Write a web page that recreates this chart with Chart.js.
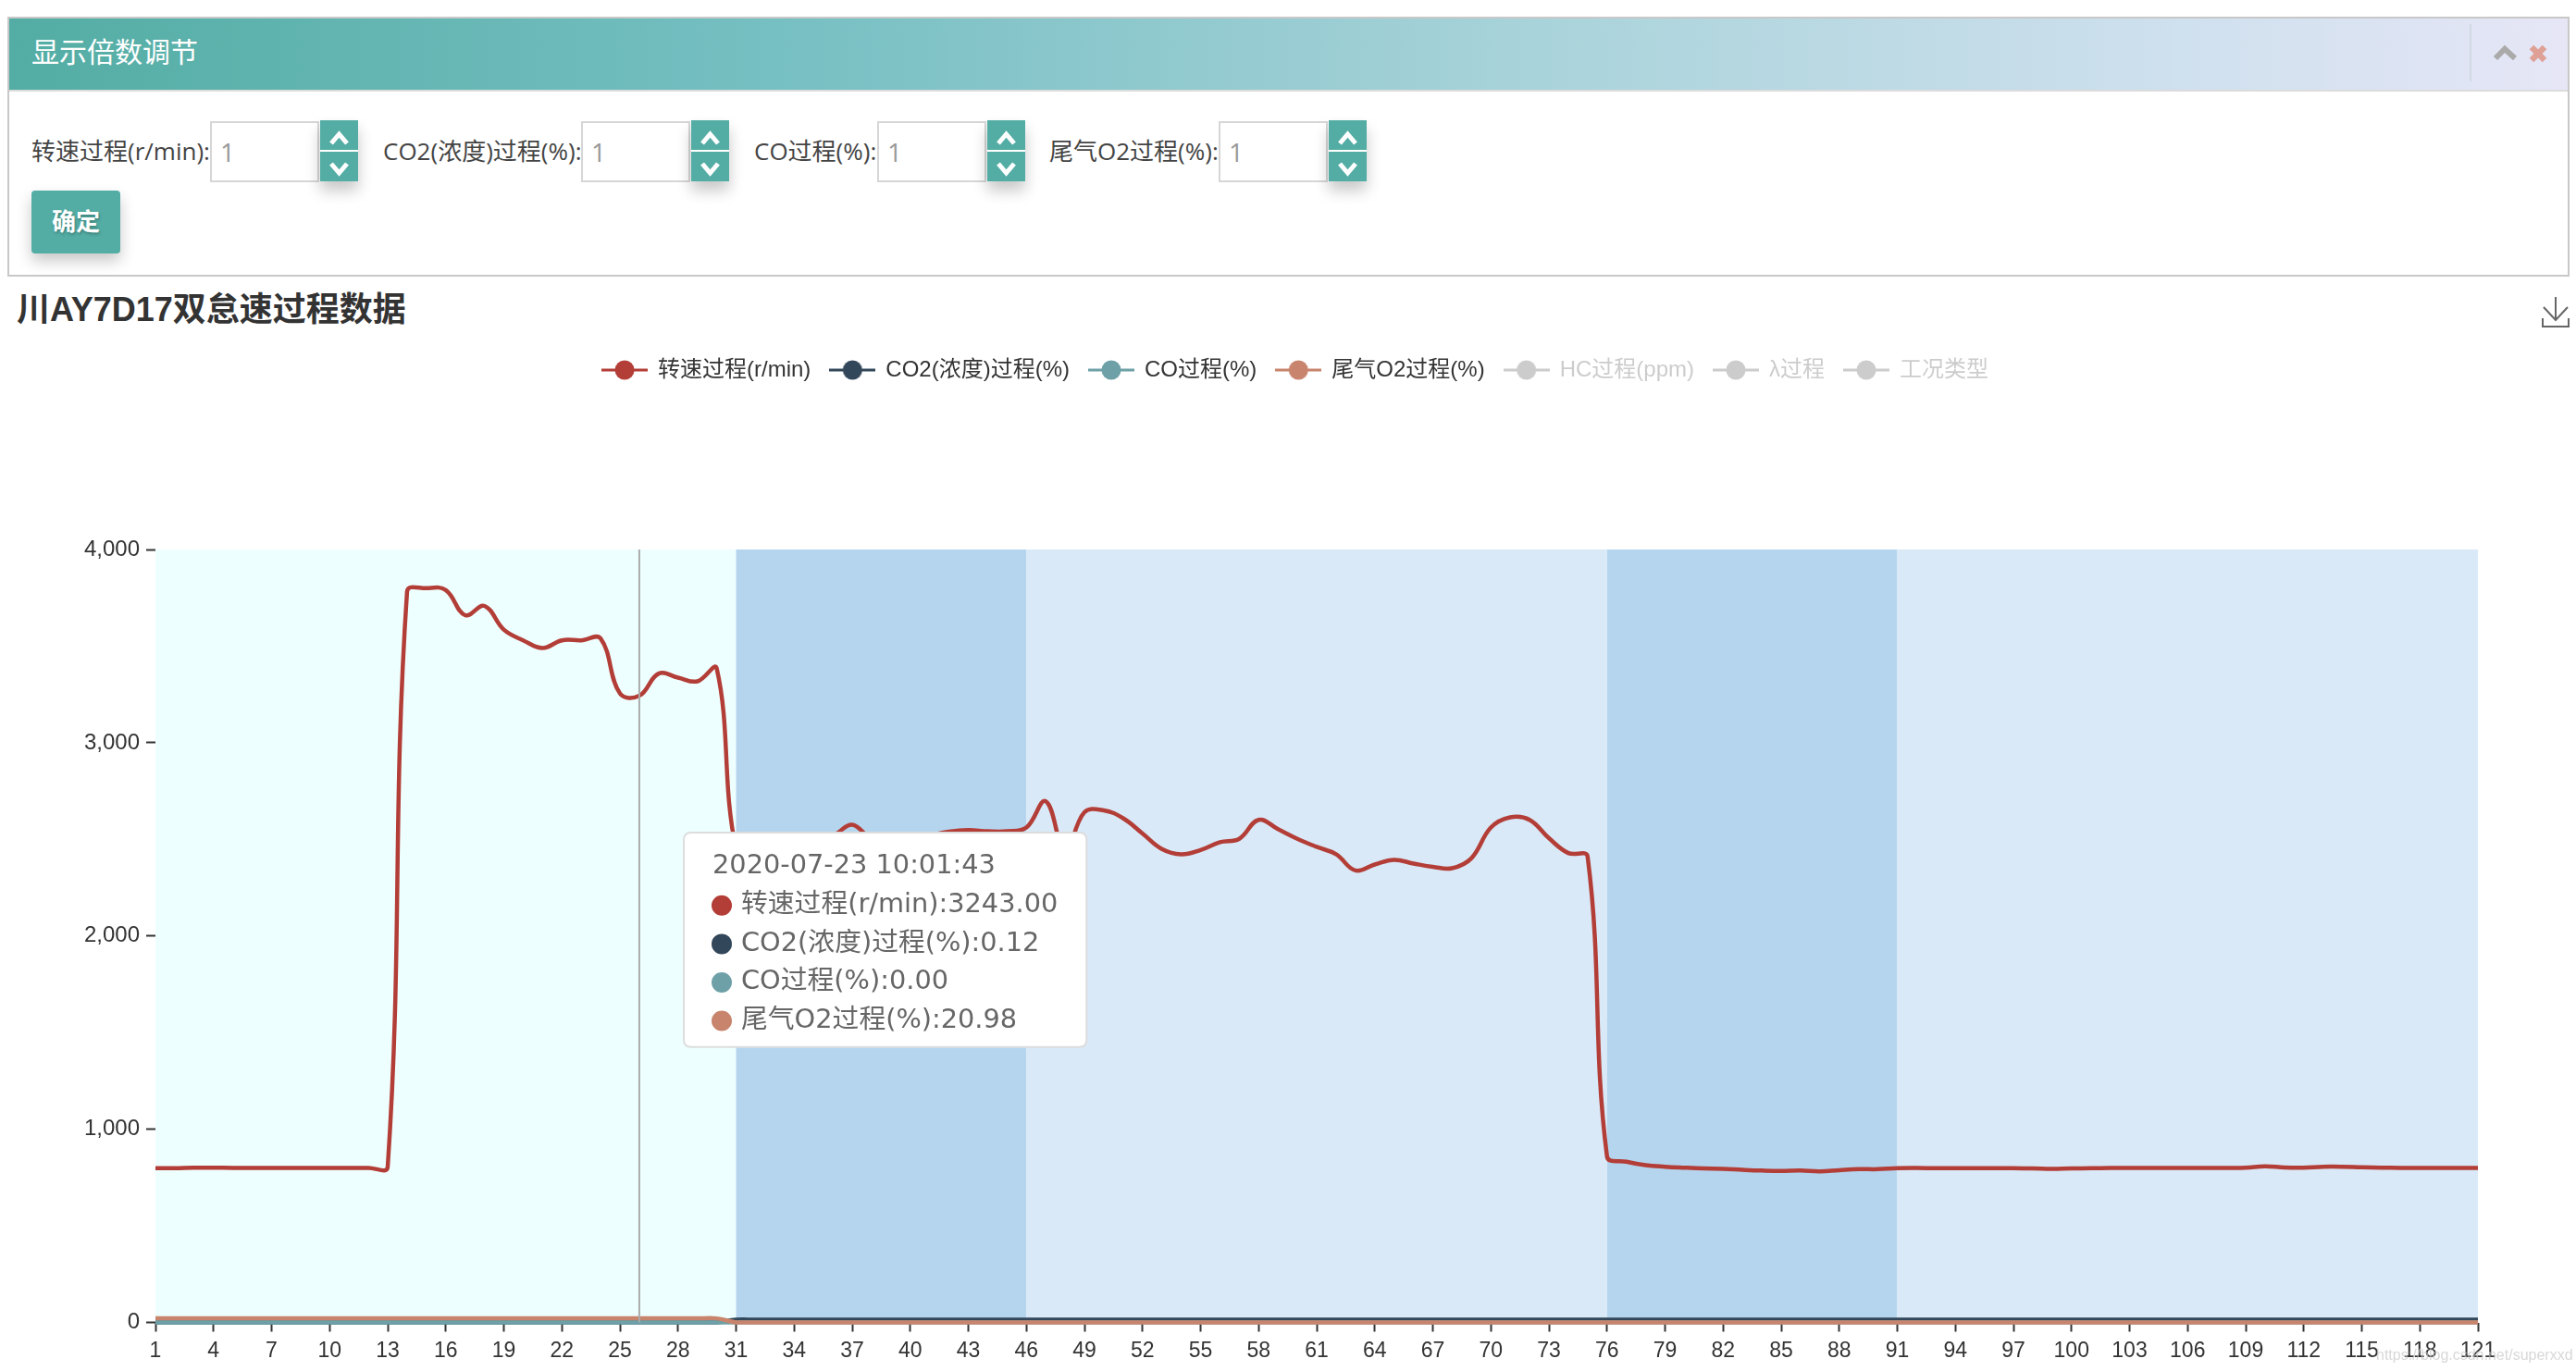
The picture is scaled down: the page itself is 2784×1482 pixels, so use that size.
<!DOCTYPE html>
<html>
<head>
<meta charset="utf-8">
<title>川AY7D17双怠速过程数据</title>
<script src="https://cdn.jsdelivr.net/npm/chart.js@4/dist/chart.umd.min.js"></script>
<style>
  html, body { margin: 0; padding: 0; background: #fff; }
  body { width: 2784px; height: 1482px; position: relative; overflow: hidden; font-family: "Open Sans", "Noto Sans CJK SC", sans-serif; }
  .abs { position: absolute; }
  #panel { left: 8px; top: 18px; width: 2765px; height: 277px; border: 2px solid #c8c8c8; }
  #panel-head { left: 0; top: 0; width: 2765px; height: 77px; border-bottom: 2px solid #dcdcdc;
    background: linear-gradient(to right, #53ada4 0%, #76bfc2 30%, #a9d3da 60%, #cfe0ee 85%, #e6e6f6 100%); }
  #panel-title { left: 24px; top: 16px; color: #fff; font-size: 30px; line-height: 40px; }
  .lbl { color: #444; font-size: 26px; line-height: 36px; top: 145px; white-space: nowrap; }
  .inp { top: 131px; width: 114px; height: 62px; border: 2px solid #d6d6d6; color: #999; font-size: 28px; line-height: 62px; text-indent: 9px; background: #fff; }
  .spin { top: 130px; width: 41px; height: 66px; box-shadow: 0 10px 16px rgba(0,0,0,.22); }
  .spin div { position: absolute; left: 0; width: 41px; height: 32px; background: #53ada4; }
  .spin svg { position: absolute; left: 9px; top: 9px; }
  #btn { left: 34px; top: 206px; width: 96px; height: 68px; border-radius: 4px; background: #53ada4; color: #fff; font-size: 26px; font-weight: 700; line-height: 66px; text-align: center; box-shadow: 0 8px 16px rgba(0,0,0,.22); text-shadow: 1px 2px 3px rgba(0,0,0,.25); }
  #chart-title { left: 18px; top: 312px; font-family: "Liberation Sans", "Noto Sans CJK SC", sans-serif; font-weight: 700; font-size: 36px; line-height: 46px; color: #333; white-space: nowrap; }
  #mark { left: 2568px; top: 1456px; color: rgba(200,200,200,.7); font-family: "Liberation Sans", sans-serif; font-size: 16px; line-height: 18px; white-space: nowrap; }
  #chart { left: 0; top: 366px; }
</style>
</head>
<body>
<div id="panel" class="abs">
  <div id="panel-head" class="abs"><div id="panel-title" class="abs">显示倍数调节</div></div>
</div>
<svg class="abs" style="left:2660px;top:20px" width="110" height="72">
  <line x1="10" y1="6" x2="10" y2="68" stroke="#d2dae6" stroke-width="2"/>
  <polyline points="37,43 47,33 58,43" fill="none" stroke="#aaa" stroke-width="6"/>
  <path d="M76 31 L90 45 M90 31 L76 45" stroke="#dfa095" stroke-width="6.5"/>
</svg>
<div id="fields"></div>
<div id="btn" class="abs">确定</div>
<div id="chart-title" class="abs">川AY7D17双怠速过程数据</div>
<svg class="abs" style="left:2746px;top:320px" width="32" height="34">
  <path d="M2 24 V33 H30 V24 M16 1 V26 M3 12 L16 26 L29 12" fill="none" stroke="#666" stroke-width="2"/>
</svg>
<canvas id="chart" class="abs" width="2784" height="1116"></canvas>
<div id="mark" class="abs">https://blog.csdn.net/superxxd</div>

<script>
const fieldNames = ['转速过程(r/min):', 'CO2(浓度)过程(%):', 'CO过程(%):', '尾气O2过程(%):'];
const fieldLeft = [34, 414, 815, 1134];
const fieldInput = [227, 628, 948, 1317];

const seriesNames = ['转速过程(r/min)', 'CO2(浓度)过程(%)', 'CO过程(%)', '尾气O2过程(%)', 'HC过程(ppm)', 'λ过程', '工况类型'];
const seriesColors = ['#b33d37', '#33475a', '#6ea0a8', '#c8846c', '#ccc', '#ccc', '#ccc'];
const categories = Array.from({ length: 121 }, (_, i) => String(i + 1));

const speedValues = [
  798, 798, 801, 801, 800, 800, 800, 800, 800, 800,
  800, 800, 805, 3782, 3800, 3790, 3660, 3708, 3585, 3530,
  3490, 3530, 3530, 3540, 3255, 3243, 3358, 3337, 3318, 3385,
  2450, 2470, 2490, 2500, 2510, 2520, 2576, 2500, 2480, 2500,
  2520, 2540, 2548, 2542, 2542, 2561, 2697, 2440, 2640, 2650,
  2609, 2530, 2450, 2423, 2445, 2485, 2503, 2601, 2553, 2503,
  2461, 2423, 2339, 2370, 2394, 2375, 2358, 2351, 2403, 2561,
  2614, 2601, 2506, 2429, 2410, 860, 832, 814, 806, 801,
  797, 795, 790, 786, 784, 786, 782, 788, 793, 793,
  798, 799, 798, 798, 798, 798, 798, 797, 795, 797,
  798, 799, 800, 800, 800, 800, 800, 800, 801, 808,
  802, 801, 806, 806, 803, 801, 800, 800, 800, 800,
  800
];
const co2Values = [
  0.12, 0.12, 0.12, 0.12, 0.12, 0.12, 0.12, 0.12, 0.12, 0.12,
  0.12, 0.12, 0.12, 0.12, 0.12, 0.12, 0.12, 0.12, 0.12, 0.12,
  0.12, 0.12, 0.12, 0.12, 0.12, 0.12, 0.12, 0.12, 0.12, 0.12,
  14, 14, 14, 14, 14, 14, 14, 14, 14, 14,
  14, 14, 14, 14, 14, 14, 14, 14, 14, 14,
  14, 14, 14, 14, 14, 14, 14, 14, 14, 14,
  14, 14, 14, 14, 14, 14, 14, 14, 14, 14,
  14, 14, 14, 14, 14, 14, 14, 14, 14, 14,
  14, 14, 14, 14, 14, 14, 14, 14, 14, 14,
  14, 14, 14, 14, 14, 14, 14, 14, 14, 14,
  14, 14, 14, 14, 14, 14, 14, 14, 14, 14,
  14, 14, 14, 14, 14, 14, 14, 14, 14, 14,
  14
];
const coValues = [
  0, 0, 0, 0, 0, 0, 0, 0, 0, 0,
  0, 0, 0, 0, 0, 0, 0, 0, 0, 0,
  0, 0, 0, 0, 0, 0, 0, 0, 0, 0,
  0, 0, 0, 0, 0, 0, 0, 0, 0, 0,
  0, 0, 0, 0, 0, 0, 0, 0, 0, 0,
  0, 0, 0, 0, 0, 0, 0, 0, 0, 0,
  0, 0, 0, 0, 0, 0, 0, 0, 0, 0,
  0, 0, 0, 0, 0, 0, 0, 0, 0, 0,
  0, 0, 0, 0, 0, 0, 0, 0, 0, 0,
  0, 0, 0, 0, 0, 0, 0, 0, 0, 0,
  0, 0, 0, 0, 0, 0, 0, 0, 0, 0,
  0, 0, 0, 0, 0, 0, 0, 0, 0, 0,
  0
];
const o2Values = [
  20.98, 20.98, 20.98, 20.98, 20.98, 20.98, 20.98, 20.98, 20.98, 20.98,
  20.98, 20.98, 20.98, 20.98, 20.98, 20.98, 20.98, 20.98, 20.98, 20.98,
  20.98, 20.98, 20.98, 20.98, 20.98, 20.98, 20.98, 20.98, 20.98, 20.98,
  0.5, 0.5, 0.5, 0.5, 0.5, 0.5, 0.5, 0.5, 0.5, 0.5,
  0.5, 0.5, 0.5, 0.5, 0.5, 0.5, 0.5, 0.5, 0.5, 0.5,
  0.5, 0.5, 0.5, 0.5, 0.5, 0.5, 0.5, 0.5, 0.5, 0.5,
  0.5, 0.5, 0.5, 0.5, 0.5, 0.5, 0.5, 0.5, 0.5, 0.5,
  0.5, 0.5, 0.5, 0.5, 0.5, 0.5, 0.5, 0.5, 0.5, 0.5,
  0.5, 0.5, 0.5, 0.5, 0.5, 0.5, 0.5, 0.5, 0.5, 0.5,
  0.5, 0.5, 0.5, 0.5, 0.5, 0.5, 0.5, 0.5, 0.5, 0.5,
  0.5, 0.5, 0.5, 0.5, 0.5, 0.5, 0.5, 0.5, 0.5, 0.5,
  0.5, 0.5, 0.5, 0.5, 0.5, 0.5, 0.5, 0.5, 0.5, 0.5,
  0.5
];
const seriesValues = [speedValues, co2Values, coValues, o2Values, [], [], []];

// working-condition bands, as category positions
const bandStarts = [1, 31, 46, 76, 91];
const bandEnds = [31, 46, 76, 91, 121];
const bandColors = ['#eeffff', '#b5d5ee', '#d9e9f7', '#b5d5ee', '#d9e9f7'];

const hoverCategory = '26';
const hoverTime = '2020-07-23 10:01:43';

// form row above the chart
const upIcon = '<svg width="23" height="20"><polyline points="3,16 11.5,6 20,16" fill="none" stroke="#fff" stroke-width="5"/></svg>';
const downIcon = '<svg width="23" height="20"><polyline points="3,4 11.5,14 20,4" fill="none" stroke="#fff" stroke-width="5"/></svg>';
const fields = document.getElementById('fields');
fieldNames.forEach((name, i) => {
  fields.insertAdjacentHTML('beforeend', `
    <div class="abs lbl" style="left:${fieldLeft[i]}px">${name}</div>
    <div class="abs inp" style="left:${fieldInput[i]}px">1</div>
    <div class="abs spin" style="left:${fieldInput[i] + 119}px">
      <div style="top:0">${upIcon}</div>
      <div style="top:34px">${downIcon}</div>
    </div>`);
});

// legend symbol: short line with a dot on it
function legendSymbol(color) {
  const c = document.createElement('canvas');
  c.width = 50;
  c.height = 24;
  const g = c.getContext('2d');
  g.strokeStyle = color;
  g.lineWidth = 3;
  g.beginPath();
  g.moveTo(0, 12);
  g.lineTo(50, 12);
  g.stroke();
  g.fillStyle = color;
  g.beginPath();
  g.arc(25, 12, 10.5, 0, Math.PI * 2);
  g.fill();
  return c;
}

const bandPlugin = {
  id: 'bands',
  beforeDatasetsDraw(chart) {
    const { ctx, chartArea, scales } = chart;
    bandStarts.forEach((start, i) => {
      const x0 = scales.x.getPixelForValue(categories.indexOf(String(start)));
      const x1 = scales.x.getPixelForValue(categories.indexOf(String(bandEnds[i])));
      ctx.fillStyle = bandColors[i];
      ctx.fillRect(x0, chartArea.top, x1 - x0, chartArea.bottom - chartArea.top);
    });
  }
};

const crosshairPlugin = {
  id: 'crosshair',
  afterDatasetsDraw(chart) {
    const { ctx, chartArea, scales } = chart;
    const x = scales.x.getPixelForValue(categories.indexOf(hoverCategory));
    ctx.save();
    ctx.strokeStyle = '#aaa';
    ctx.lineWidth = 2;
    ctx.beginPath();
    ctx.moveTo(x, chartArea.top);
    ctx.lineTo(x, chartArea.bottom);
    ctx.stroke();
    ctx.restore();
  }
};

// leaves the blank strip under the legend and centres it over the whole page
const legendGapPlugin = {
  id: 'legendGap',
  beforeInit(chart) {
    const fit = chart.legend.fit;
    chart.legend.fit = function () {
      fit.call(this);
      this.height = 228;
    };
  },
  afterLayout(chart) {
    chart.legend.left += 21;
    chart.legend.right += 21;
    chart.legend.top += 1;
  }
};

Chart.Tooltip.positioners.fixedBox = function () {
  return { x: 747, y: 534 };
};

const chart = new Chart(document.getElementById('chart'), {
  type: 'line',
  data: {
    labels: categories,
    datasets: seriesNames.map((name, i) => ({
      label: name,
      data: seriesValues[i],
      hidden: i > 3,
      borderColor: seriesColors[i],
      backgroundColor: seriesColors[i],
      borderWidth: 4.5,
      pointRadius: 0,
      tension: 0.4,
      clip: { left: 0, right: 0, top: 0, bottom: 2.5 },
      order: 7 - i
    }))
  },
  plugins: [bandPlugin, crosshairPlugin, legendGapPlugin],
  options: {
    responsive: false,
    devicePixelRatio: 1,
    animation: false,
    events: [],
    layout: { padding: { left: 80, right: 106, top: 0, bottom: 0 } },
    scales: {
      x: {
        offset: false,
        grid: { drawOnChartArea: false, drawTicks: true, tickLength: 10, tickColor: '#333', tickWidth: 2 },
        border: { display: false },
        ticks: { autoSkip: false, maxRotation: 0, padding: 7, color: '#333', font: { family: '"Liberation Sans"', size: 23 } },
        afterBuildTicks(scale) {
          scale.ticks = scale.ticks.filter((t, i) => i % 3 === 0);
        },
        afterFit(scale) {
          scale.height = 52.5;
        }
      },
      y: {
        min: 0,
        max: 4000,
        grid: { drawOnChartArea: false, drawTicks: true, tickLength: 10, tickColor: '#333', tickWidth: 2 },
        border: { display: false },
        ticks: {
          stepSize: 1000,
          padding: 7,
          color: '#333',
          font: { family: '"Liberation Sans"', size: 24 },
          callback: value => value.toLocaleString('en-US')
        },
        afterFit(scale) {
          scale.width = 88;
        }
      }
    },
    plugins: {
      legend: {
        position: 'top',
        labels: {
          usePointStyle: true,
          pointStyleWidth: 48,
          padding: 21,
          font: { family: '"Liberation Sans", "Noto Sans CJK SC"', size: 24 },
          generateLabels(chart) {
            return chart.data.datasets.map((ds, i) => ({
              text: ds.label,
              datasetIndex: i,
              hidden: false,
              fontColor: i > 3 ? '#ccc' : '#333',
              pointStyle: legendSymbol(seriesColors[i]),
              lineWidth: 0
            }));
          }
        }
      },
      tooltip: {
        enabled: true,
        position: 'fixedBox',
        xAlign: 'left',
        yAlign: 'top',
        caretSize: 0,
        caretPadding: 0,
        cornerRadius: 8,
        backgroundColor: '#fff',
        borderColor: '#ddd',
        borderWidth: 2,
        titleColor: '#666',
        bodyColor: '#666',
        titleFont: { family: '"DejaVu Sans", "Noto Sans CJK SC"', size: 28.8, weight: 'normal' },
        bodyFont: { family: '"DejaVu Sans", "Noto Sans CJK SC"', size: 28.8 },
        titleMarginBottom: 8,
        bodySpacing: 7,
        padding: { top: 19, bottom: 11, left: 31, right: 31 },
        usePointStyle: true,
        boxWidth: 20,
        boxHeight: 20,
        boxPadding: 9,
        callbacks: {
          title: () => hoverTime,
          label: item => `${item.dataset.label}:${item.parsed.y.toFixed(2)}`
        }
      }
    }
  }
});

const hoverIndex = categories.indexOf(hoverCategory);
chart.tooltip.setActiveElements(
  [0, 1, 2, 3].map(datasetIndex => ({ datasetIndex, index: hoverIndex })),
  { x: 0, y: 0 }
);
chart.render();
</script>
</body>
</html>
